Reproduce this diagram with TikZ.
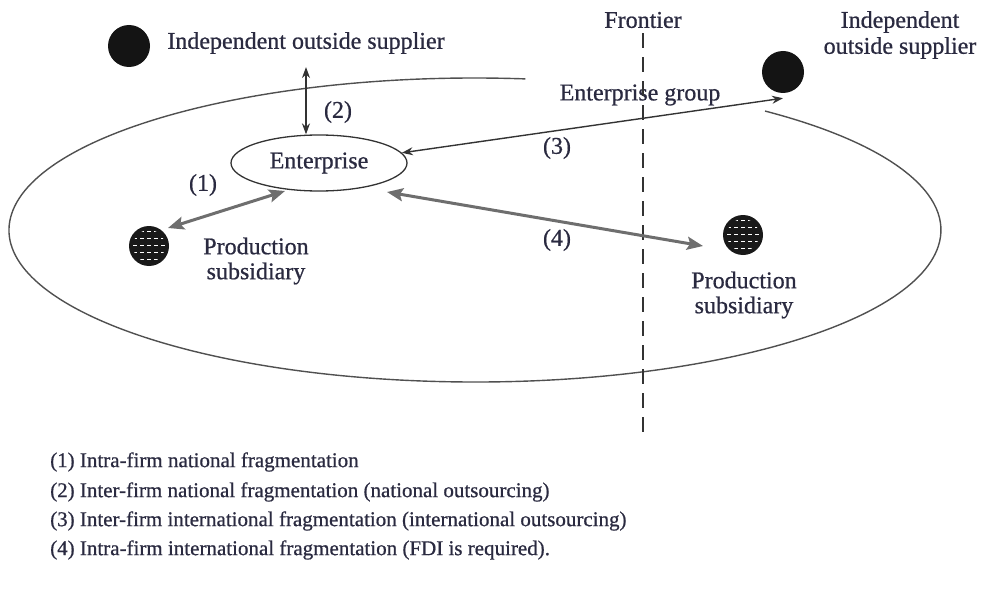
\documentclass[tikz,border=0pt]{standalone}
\usepackage{fontspec}
\setmainfont{Liberation Serif}[FakeBold=0.7]
\usetikzlibrary{shapes.geometric,arrows.meta,calc}
\definecolor{ctxt}{HTML}{2A2A40}
\definecolor{cgray}{HTML}{6E6E6E}
\definecolor{cdark}{HTML}{333333}
\definecolor{cring}{HTML}{505050}
\begin{document}
\begin{tikzpicture}[x=1pt,y=-1pt,
  lbl/.style={text=ctxt, font=\fontsize{24}{25}\selectfont, inner sep=0pt, align=center},
  legendtxt/.style={text=ctxt, font=\fontsize{21}{22}\selectfont, anchor=west, inner sep=0pt},
  supdot/.style={circle, fill=black!92, minimum size=42pt, inner sep=0pt},
  proddot/.style={circle, fill=black!90, minimum size=40pt, inner sep=0pt},
  thickarr/.style={draw=cgray, line width=3pt, {Stealth[length=16pt,width=13pt,inset=3pt]}-{Stealth[length=16pt,width=13pt,inset=3pt]}},
  thinarr/.style={draw=cdark, line width=1.4pt, {Stealth[length=11pt,width=8pt]}-{Stealth[length=11pt,width=8pt]}}]
\useasboundingbox (0,0) rectangle (985,591);

% enterprise group ring (open at upper right)
\draw[cring, line width=1.4pt] (525.3,78.9) arc[start angle=83.8, end angle=411.5, x radius=466pt, y radius=152pt];

% nodes
\node[supdot] (sup1) at (129,46) {};
\node[lbl] (sup1lbl) at (306,43) {Independent outside supplier};
\node[supdot] (sup2) at (783,72) {};
\node[lbl, font=\fontsize{24}{26}\selectfont] (sup2lbl) at (900,35) {Independent\\outside supplier};
\node[lbl] (front) at (643,20) {Frontier};
\node[lbl] (grp) at (640,95) {Enterprise group};
\node[draw=cdark, line width=1.3pt, ellipse, minimum width=176pt, minimum height=56pt, inner sep=0pt, text=ctxt, font=\fontsize{24}{25}\selectfont] (ent) at (319,163) {Enterprise};
\node[proddot] (prod1) at (149,246) {};
\node[proddot] (prod2) at (743,235) {};
\node[lbl] (prod1lbl) at (256,261) {Production\\subsidiary};
\node[lbl] (prod2lbl) at (744,295) {Production\\subsidiary};

% dotted texture of the subsidiaries
\foreach \n in {prod1,prod2}{
  \begin{scope}
    \clip (\n.center) circle (16pt);
    \foreach \i in {-2,...,2}{
      \foreach \j in {-2,...,2}{
        \fill[white] ([shift={(\i*7pt-1.8pt, \j*7pt)}]\n.center) rectangle ++(3.6pt,1.2pt);
      }
    }
  \end{scope}
}

% frontier
\coordinate (fend) at (643,440);
\draw[cdark, line width=1.5pt, dash pattern=on 15pt off 9pt] ([yshift=-5pt]front.south) -- (fend);

% connectors
\coordinate (a2top) at ([yshift=-13pt]sup1lbl.south);
\draw[thinarr] (a2top) -- (a2top |- ent.north);
\draw[thinarr] (ent.7) -- ([yshift=-5pt]sup2.south);
\draw[thickarr] ([shift={(19pt,18pt)}]prod1.center) -- ([shift={(-34pt,-28pt)}]ent.center);
\draw[thickarr] ([shift={(68pt,-29pt)}]ent.center) -- ([shift={(-40pt,-11pt)}]prod2.center);

% numbers
\node[lbl] (n1) at (203,185) {(1)};
\node[lbl] (n2) at (338,112) {(2)};
\node[lbl] (n3) at (557,148) {(3)};
\node[lbl] (n4) at (557,240) {(4)};

% legend
\node[legendtxt] (l1) at (50,462) {(1) Intra-firm national fragmentation};
\node[legendtxt] (l2) at (50,492) {(2) Inter-firm national fragmentation (national outsourcing)};
\node[legendtxt] (l3) at (50,521) {(3) Inter-firm international fragmentation (international outsourcing)};
\node[legendtxt] (l4) at (50,550) {(4) Intra-firm international fragmentation (FDI is required).};
\end{tikzpicture}
\end{document}
